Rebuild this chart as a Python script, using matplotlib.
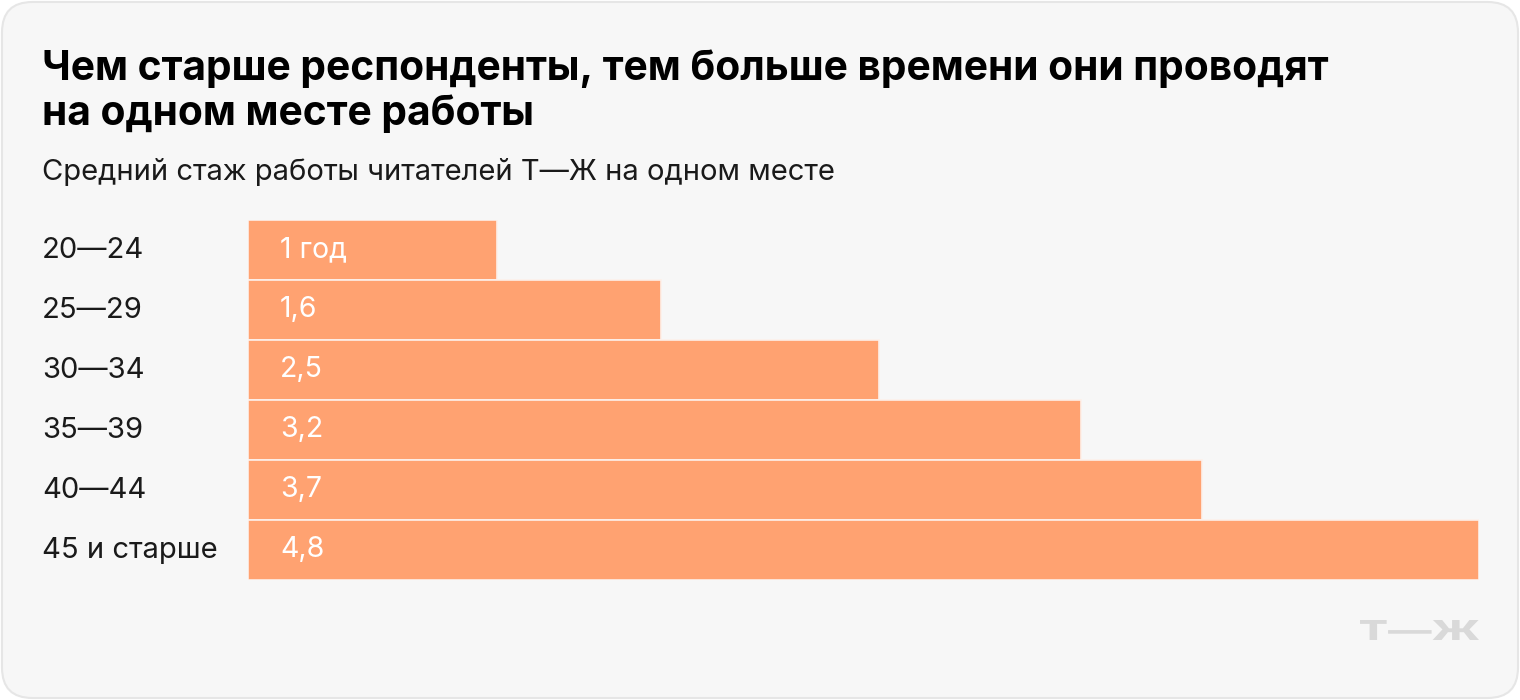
import matplotlib
matplotlib.use("Agg")
import matplotlib.pyplot as plt
from matplotlib.patches import FancyBboxPatch, PathPatch
from matplotlib.textpath import TextPath
from matplotlib.font_manager import FontProperties
from matplotlib.transforms import Affine2D, IdentityTransform

categories = ["20—24", "25—29", "30—34", "35—39", "40—44", "45 и старше"]
values = [0.97, 1.61, 2.46, 3.25, 3.72, 4.80]
value_labels = ["1 год", "1,6", "2,5", "3,2", "3,7", "4,8"]

title_lines = ["Чем старше респонденты, тем больше времени они проводят",
               "на одном месте работы"]
subtitle = "Средний стаж работы читателей Т—Ж на одном месте"

plt.rcParams['font.family'] = ['Inter', 'DejaVu Sans']

W, H = 1520, 700
fig = plt.figure(figsize=(W / 100, H / 100), dpi=100)
fig.patch.set_facecolor("white")

# rounded background card
card = FancyBboxPatch((2 / W, 2 / H), (W - 4) / W, (H - 4) / H,
                      boxstyle="round,pad=0,rounding_size=0.02",
                      transform=fig.transFigure, facecolor="#f7f7f7",
                      edgecolor="#e6e6e6", linewidth=1.5, zorder=-5,
                      mutation_aspect=W / H)
fig.patches.append(card)

for i, line in enumerate(title_lines):
    fig.text(42 / W, 1 - (80 + 45 * i) / H, line, fontsize=29.3,
             fontweight="bold", color="#000000", ha="left", va="baseline")
fig.text(42 / W, 1 - 180 / H, subtitle, fontsize=21, color="#1a1a1a",
         ha="left", va="baseline")

left, right = 248 / W, 1479 / W
top, bottom = 1 - 220 / H, 1 - 580 / H
ax = fig.add_axes([left, bottom, right - left, top - bottom], zorder=2)
ax.patch.set_visible(False)
y = list(range(len(categories)))
ax.barh(y, values, height=1.0, color="#ffa271", edgecolor="#fdf0ea",
        linewidth=1.2)
ax.set_xlim(0, max(values))
ax.set_ylim(len(categories) - 0.5, -0.5)
ax.axis("off")

for yi, lab in zip(y, value_labels):
    ax.text(32 / (right - left) / W * max(values), yi, lab, color="white",
            fontsize=20.5, ha="left", va="center")

for yi, cat in zip(y, categories):
    fy = 1 - (220 + 30 + 60 * yi) / H
    fig.text(42 / W, fy, cat, fontsize=21, color="#1a1a1a",
             ha="left", va="center")

# logo: wide, flat "Т—Ж"
tp = TextPath((0, 0), "Т—Ж", size=100,
              prop=FontProperties(family="Inter", weight="heavy"))
ext = tp.get_extents()
lx0, lx1, ly0, ly1 = 1360, 1479, H - 640, H - 620
tr = (Affine2D().translate(-ext.x0, -ext.y0)
      .scale((lx1 - lx0) / ext.width, (ly1 - ly0) / ext.height)
      .translate(lx0, ly0))
logo = PathPatch(tr.transform_path(tp), transform=IdentityTransform(),
                 facecolor="#d9d9d9", edgecolor="none")
fig.patches.append(logo)

fig.savefig("out.png", dpi=100, facecolor=fig.get_facecolor())
